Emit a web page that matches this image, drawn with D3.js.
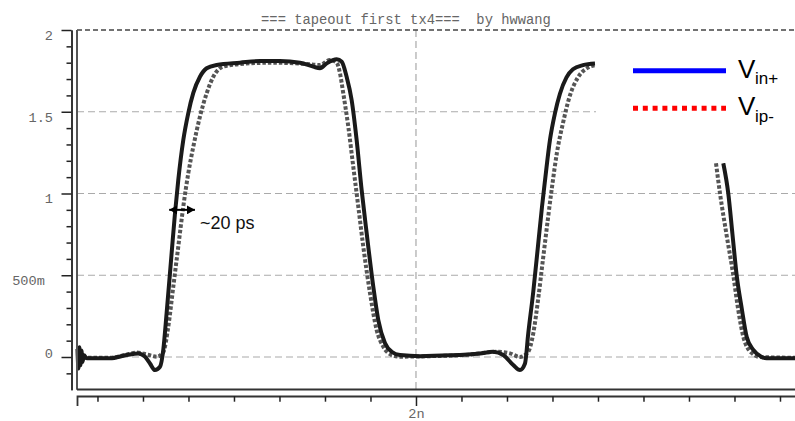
<!DOCTYPE html>
<html>
<head>
<meta charset="utf-8">
<script src="https://cdn.jsdelivr.net/npm/d3@7"></script>
<style>
  body { margin: 0; background: #fff; }
  svg { display: block; }
</style>
</head>
<body>
<svg width="795" height="421"></svg>
<script>
// waveform samples: [time (ns), voltage (V)], null = hidden behind the legend
const vinPlus = [
  [1.6280, 0.05], [1.6291, -0.07], [1.6302, 0.06], [1.6313, -0.05], [1.6324, 0.04],
  [1.6335, -0.03], [1.6352, 0.01], [1.6381, -0.008], [1.6637, -0.008], [1.6821, 0.012],
  [1.6948, 0.022], [1.7022, 0.002], [1.7077, -0.04], [1.7132, -0.08], [1.7187, -0.06],
  [1.7223, 0.043], [1.7260, 0.27], [1.7315, 0.636], [1.7352, 0.88], [1.7388, 1.083],
  [1.7443, 1.327], [1.7498, 1.492], [1.7553, 1.615], [1.7626, 1.714], [1.7700, 1.766],
  [1.7810, 1.786], [1.8066, 1.80], [1.8286, 1.81], [1.8505, 1.81], [1.8725, 1.80],
  [1.8871, 1.776], [1.8945, 1.766], [1.9019, 1.796], [1.9129, 1.821], [1.9184, 1.806],
  [1.9238, 1.714], [1.9293, 1.572], [1.9348, 1.327], [1.9403, 1.021], [1.9458, 0.758],
  [1.9531, 0.43], [1.9586, 0.226], [1.9659, 0.086], [1.9733, 0.032], [1.9824, 0.012],
  [2.0044, 0.005], [2.0374, 0.01], [2.0703, 0.022], [2.0849, 0.032], [2.0959, 0.012],
  [2.1069, -0.049], [2.1143, -0.08], [2.1198, -0.04], [2.1234, 0.145], [2.1289, 0.40],
  [2.1341, 0.68], [2.1385, 0.92], [2.1418, 1.08], [2.1473, 1.33], [2.1527, 1.49],
  [2.1582, 1.61], [2.1654, 1.71], [2.1725, 1.76], [2.1835, 1.785], [2.1967, 1.795],
  [2.2600, null],
  [2.3377, 1.185], [2.3432, 1.0], [2.3478, 0.75], [2.3524, 0.5], [2.3579, 0.30],
  [2.3634, 0.124], [2.3707, 0.043], [2.3799, 0.0], [2.3854, -0.008], [2.4198, -0.008]
];

const vipMinus = [
  [1.6275, -0.005], [1.6637, -0.005], [1.6802, 0.012], [1.6934, 0.027], [1.7044, 0.015],
  [1.7154, 0.002], [1.7223, 0.03], [1.7278, 0.185], [1.7333, 0.43], [1.7388, 0.675],
  [1.7443, 0.92], [1.7498, 1.124], [1.7553, 1.286], [1.7626, 1.47], [1.7700, 1.613],
  [1.7773, 1.714], [1.7882, 1.776], [1.8066, 1.792], [1.8432, 1.80], [1.8799, 1.792],
  [1.8945, 1.786], [1.9055, 1.817], [1.9129, 1.80], [1.9165, 1.735], [1.9201, 1.613],
  [1.9256, 1.41], [1.9311, 1.164], [1.9366, 0.92], [1.9421, 0.675], [1.9495, 0.39],
  [1.9568, 0.165], [1.9641, 0.063], [1.9733, 0.012], [1.9824, 0.002], [2.0154, 0.005],
  [2.0593, 0.015], [2.0887, 0.032], [2.1033, 0.022], [2.1143, 0.0], [2.1231, 0.03],
  [2.1289, 0.145], [2.1344, 0.36], [2.1396, 0.6], [2.1451, 0.85], [2.1495, 1.04],
  [2.1549, 1.25], [2.1615, 1.43], [2.1692, 1.6], [2.1780, 1.71], [2.1890, 1.77],
  [2.1967, 1.785],
  [2.2600, null],
  [2.3297, 1.185], [2.3341, 1.0], [2.3412, 0.75], [2.3487, 0.5], [2.3538, 0.30],
  [2.3597, 0.124], [2.3689, 0.025], [2.3780, 0.0], [2.4198, -0.005]
];

const yMajorTicks = [0, 0.5, 1, 1.5, 2];
const yTickLabels = ["0", "500m ", "1", "1.5", "2"];
const yMinorTicks = [-0.1, 0.1, 0.2, 0.3, 0.4, 0.6, 0.7, 0.8, 0.9, 1.1, 1.2, 1.3, 1.4, 1.6, 1.7, 1.8, 1.9];
const xMinorTicks = [1.65, 1.7, 1.75, 1.8, 1.85, 1.9, 1.95, 2.05, 2.1, 2.15, 2.2, 2.25, 2.3, 2.35, 2.4];
const xMajorTicks = [2];
const xTickLabels = ["2n"];
const gridLevels = [0, 0.5, 1, 1.5];

const titleText = "=== tapeout first tx4===  by hwwang";
const legendNames = [["V", "in+"], ["V", "ip-"]];
const noteText = "~20 ps";
const noteV = 0.9, noteT = [1.7288, 1.7571], noteTextAt = [1.7626, 0.783];

const svg = d3.select("svg");
const plotLeft = 77, plotRight = 798, plotTop = 30, plotBottom = 389.7;
const mono = "'Liberation Mono', 'Courier New', monospace";
const sans = "'Liberation Sans', Arial, sans-serif";

const x = d3.scaleLinear().domain([1.6275, 2.4198]).range([plotLeft, plotRight]);
const y = d3.scaleLinear().domain([-0.2, 2]).range([plotBottom, plotTop]);

// title
svg.append("text")
    .attr("x", 406).attr("y", 23.5)
    .attr("text-anchor", "middle")
    .style("white-space", "pre")
    .style("font-family", mono).style("font-size", "13.8px")
    .attr("fill", "#666")
    .text(titleText);

// grid
svg.append("g").selectAll("line")
    .data(gridLevels)
    .join("line")
    .attr("x1", plotLeft).attr("x2", plotRight)
    .attr("y1", d => y(d)).attr("y2", d => y(d))
    .attr("stroke", "#aaa").attr("stroke-width", 1.2)
    .attr("stroke-dasharray", "7,4");

svg.append("line")
    .attr("x1", x(2)).attr("x2", x(2))
    .attr("y1", plotTop).attr("y2", plotBottom)
    .attr("stroke", "#aaa").attr("stroke-width", 1.2)
    .attr("stroke-dasharray", "7,4");

// top edge
svg.append("line")
    .attr("x1", plotLeft).attr("x2", plotRight)
    .attr("y1", y(2)).attr("y2", y(2))
    .attr("stroke", "#444").attr("stroke-width", 1.5)
    .attr("stroke-dasharray", "5,3");

// waveforms
const line = d3.line()
    .defined(d => d[1] !== null)
    .x(d => x(d[0]))
    .y(d => y(d[1]))
    .curve(d3.curveMonotoneX);

svg.append("path")
    .datum(vipMinus)
    .attr("d", line)
    .attr("fill", "none")
    .attr("stroke", "#555").attr("stroke-width", 4)
    .attr("stroke-dasharray", "3.5,2");

svg.append("path")
    .datum(vinPlus)
    .attr("d", line)
    .attr("fill", "none")
    .attr("stroke", "#1a1a1a").attr("stroke-width", 4)
    .attr("stroke-linejoin", "round");

// frame
svg.append("line")
    .attr("x1", plotLeft).attr("x2", plotLeft)
    .attr("y1", plotTop).attr("y2", plotBottom)
    .attr("stroke", "#555").attr("stroke-width", 2);
svg.append("line")
    .attr("x1", plotLeft).attr("x2", plotRight)
    .attr("y1", 389.5).attr("y2", 389.5)
    .attr("stroke", "#333").attr("stroke-width", 2);

// y axis
const yMinor = svg.append("g")
    .attr("transform", "translate(71.5,0)")
    .call(d3.axisLeft(y).tickValues(yMinorTicks).tickSize(5).tickSizeOuter(0).tickFormat(""));
const yMajor = svg.append("g")
    .attr("transform", "translate(71.5,0)")
    .call(d3.axisLeft(y).tickValues(yMajorTicks).tickSize(10).tickSizeOuter(0).tickPadding(8.5)
        .tickFormat((d, i) => yTickLabels[i]));
yMajor.selectAll("text")
    .attr("dy", d => d === 0 ? "0em" : "0.69em")
    .style("white-space", "pre");

// x axis
const xMinor = svg.append("g")
    .attr("transform", "translate(0,396)")
    .call(d3.axisBottom(x).tickValues(xMinorTicks).tickSize(5.7).tickSizeOuter(10).tickFormat(""));
const xMajor = svg.append("g")
    .attr("transform", "translate(0,396)")
    .call(d3.axisBottom(x).tickValues(xMajorTicks).tickSize(10).tickSizeOuter(0).tickPadding(2.5)
        .tickFormat((d, i) => xTickLabels[i]));
xMajor.select(".domain").remove();

[yMinor, yMajor, xMinor, xMajor].forEach(g => {
  g.select(".domain").attr("stroke", "#333").attr("stroke-width", 1.8);
  g.selectAll(".tick line").attr("stroke", "#222").attr("stroke-width", 1.5);
  g.selectAll("text")
      .style("font-family", mono).style("font-size", "13.6px")
      .attr("fill", "#666");
});

// legend (pasted box)
svg.append("rect")
    .attr("x", 596).attr("y", 36)
    .attr("width", 210).attr("height", 127)
    .attr("fill", "#fff");

const legendY = [70.7, 108.3];
svg.append("line")
    .attr("x1", 633).attr("x2", 726)
    .attr("y1", legendY[0]).attr("y2", legendY[0])
    .attr("stroke", "#0000ff").attr("stroke-width", 5);
svg.append("line")
    .attr("x1", 633).attr("x2", 726)
    .attr("y1", legendY[1]).attr("y2", legendY[1])
    .attr("stroke", "#ff0000").attr("stroke-width", 5)
    .attr("stroke-dasharray", "5,4.8");

legendNames.forEach((n, i) => {
  svg.append("text")
      .attr("x", 738).attr("y", [78, 115][i])
      .style("font-family", sans).style("font-size", "26px")
      .attr("fill", "#000")
      .text(n[0]);
  svg.append("text")
      .attr("x", 755).attr("y", [83.5, 121.5][i])
      .style("font-family", sans).style("font-size", "17px")
      .attr("fill", "#000")
      .text(n[1]);
});

// ~20 ps annotation
const defs = svg.append("defs");
defs.append("marker")
    .attr("id", "head")
    .attr("markerUnits", "userSpaceOnUse")
    .attr("viewBox", "0 0 8 9")
    .attr("markerWidth", 8).attr("markerHeight", 9)
    .attr("refX", 8).attr("refY", 4.5)
    .attr("orient", "auto-start-reverse")
    .append("path")
    .attr("d", "M0,0L8,4.5L0,9Z")
    .attr("fill", "#000");

svg.append("line")
    .attr("x1", x(noteT[0])).attr("x2", x(noteT[1]))
    .attr("y1", y(noteV)).attr("y2", y(noteV))
    .attr("stroke", "#000").attr("stroke-width", 2)
    .attr("marker-start", "url(#head)")
    .attr("marker-end", "url(#head)");

svg.append("text")
    .attr("x", x(noteTextAt[0])).attr("y", y(noteTextAt[1]))
    .style("font-family", sans).style("font-size", "18px")
    .attr("fill", "#111")
    .text(noteText);
</script>
</body>
</html>
